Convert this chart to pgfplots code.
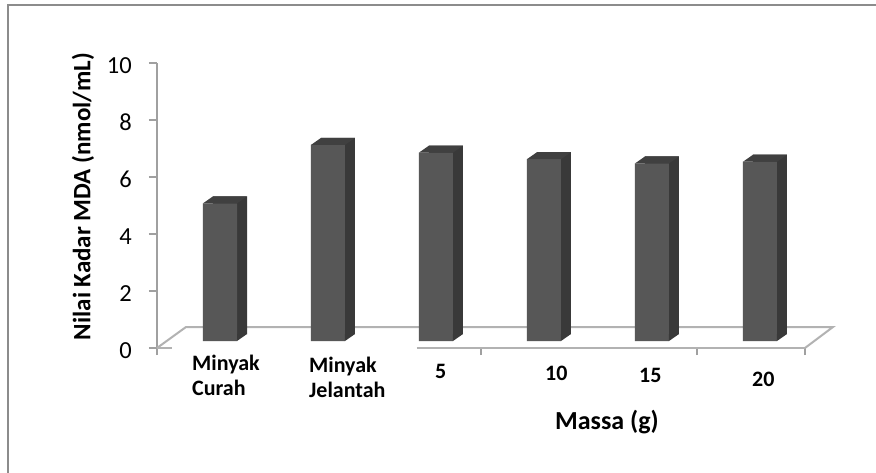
\documentclass[border=0pt]{standalone}
\usepackage{pgfplots}
\pgfplotsset{compat=1.18}
\usepackage{pgfplotstable}
\usepackage{fontspec}
\setmainfont{Carlito}

\definecolor{barfront}{HTML}{575757}
\definecolor{barside}{HTML}{393939}
\definecolor{bartop}{HTML}{404040}
\definecolor{floorline}{HTML}{B2B2B2}
\definecolor{axisgray}{HTML}{A0A0A0}
\definecolor{framegray}{HTML}{8C8C8C}

% MDA level per sample (nmol/mL)
\pgfplotstableread{
x v
0 4.83
1 6.88
2 6.61
3 6.38
4 6.23
5 6.29
}\mdadata

% top face of a column, drawn at the column's value
\pgfdeclareplotmark{barcap}{%
  \pgfpathmoveto{\pgfpoint{-17pt}{0pt}}%
  \pgfpathlineto{\pgfpoint{17pt}{0pt}}%
  \pgfpathlineto{\pgfpoint{27pt}{7pt}}%
  \pgfpathlineto{\pgfpoint{-7pt}{7pt}}%
  \pgfpathclose\pgfusepath{fill}}
% lower corner of the side face, drawn at the column's foot
\pgfdeclareplotmark{barfoot}{%
  \pgfpathmoveto{\pgfpoint{17pt}{0pt}}%
  \pgfpathlineto{\pgfpoint{27pt}{7pt}}%
  \pgfpathlineto{\pgfpoint{17pt}{7pt}}%
  \pgfpathclose\pgfusepath{fill}}

\newcommand{\twolines}[2]{\begin{tabular}[t]{@{}l@{}}#1\\#2\end{tabular}}

\begin{document}
\begin{tikzpicture}
\path[use as bounding box] (0,0) rectangle (876pt,472pt);
\fill[white] (0,0) rectangle (876pt,472pt);
\draw[framegray, line width=1.5pt] (8pt,-5pt) -- (8pt,467pt) -- (881pt,467pt);
\begin{axis}[
  scale only axis, width=648pt, height=285pt,
  at={(157pt,124pt)}, anchor=south west,
  xmin=-0.5, xmax=5.5, ymin=0, ymax=10,
  clip=false,
  axis y line*=left, axis x line*=bottom,
  x axis line style={draw=none},
  y axis line style={draw=axisgray, line width=1.5pt},
  ytick={0,2,...,10},
  tick align=outside, major tick length=8pt,
  ytick style={draw=axisgray, line width=1.5pt},
  /pgf/number format/assume math mode=true,
  yticklabel style={font=\fontsize{24.5}{24.5}\selectfont, anchor=east, inner sep=0pt, xshift=-17pt, yshift=-2.5pt},
  xtick={-0.176,0.907,2.074,3.093,3.963,5.009},
  xtick style={draw=none},
  xticklabels={
    \twolines{Minyak}{Curah},
    \raisebox{-2pt}{\twolines{Minyak}{Jelantah}},
    \raisebox{-8.3pt}{5},
    \raisebox{-10.3pt}{10},
    \raisebox{-12.3pt}{15},
    \raisebox{-16.3pt}{20}},
  xticklabel style={font=\bfseries\fontsize{22}{25.3}\selectfont, anchor=base west, inner sep=0pt, yshift=-14pt},
  extra x ticks={-0.5,2.5,4.5,5.5},
  extra x tick labels={},
  extra x tick style={xtick style={draw=axisgray, line width=1.5pt}, major tick length=7pt},
  xlabel={Massa (g)},
  ylabel={Nilai Kadar MDA (nmol/mL)},
  every axis x label/.style={at={(axis description cs:0.6944,-0.2877)}, anchor=base, font=\bfseries\fontsize{26}{26}\selectfont},
  every axis y label/.style={at={(axis description cs:-0.1142,0.5316)}, rotate=90, anchor=center, font=\bfseries\fontsize{25}{25}\selectfont},
]
% floor of the chart
\draw[floorline, line width=2pt] (axis cs:-0.5,0) -- ([xshift=29pt,yshift=21pt]axis cs:-0.5,0)
  -- ([xshift=28pt,yshift=21pt]axis cs:5.5,0) -- (axis cs:5.5,0);
\draw[floorline, line width=2pt] (axis cs:-0.5,0) -- (axis cs:-0.361,0);
\draw[floorline, line width=2pt] (axis cs:1.907,0) -- (axis cs:5.5,0);

% columns: side face, front face, top face, foot corner
\addplot[ybar, bar width=34pt, bar shift=0pt, fill=barside, draw=none, xshift=19pt, yshift=14pt]
  table[x=x, y=v] {\mdadata};
\addplot[ybar, bar width=34pt, bar shift=0pt, fill=barfront, draw=none, xshift=9pt, yshift=7pt]
  table[x=x, y=v] {\mdadata};
\addplot[only marks, mark=barcap, color=bartop, xshift=9pt, yshift=7pt]
  table[x=x, y=v] {\mdadata};
\addplot[only marks, mark=barfoot, color=barside, xshift=9pt, yshift=7pt]
  table[x=x, y expr=0] {\mdadata};
\end{axis}
\end{tikzpicture}
\end{document}
